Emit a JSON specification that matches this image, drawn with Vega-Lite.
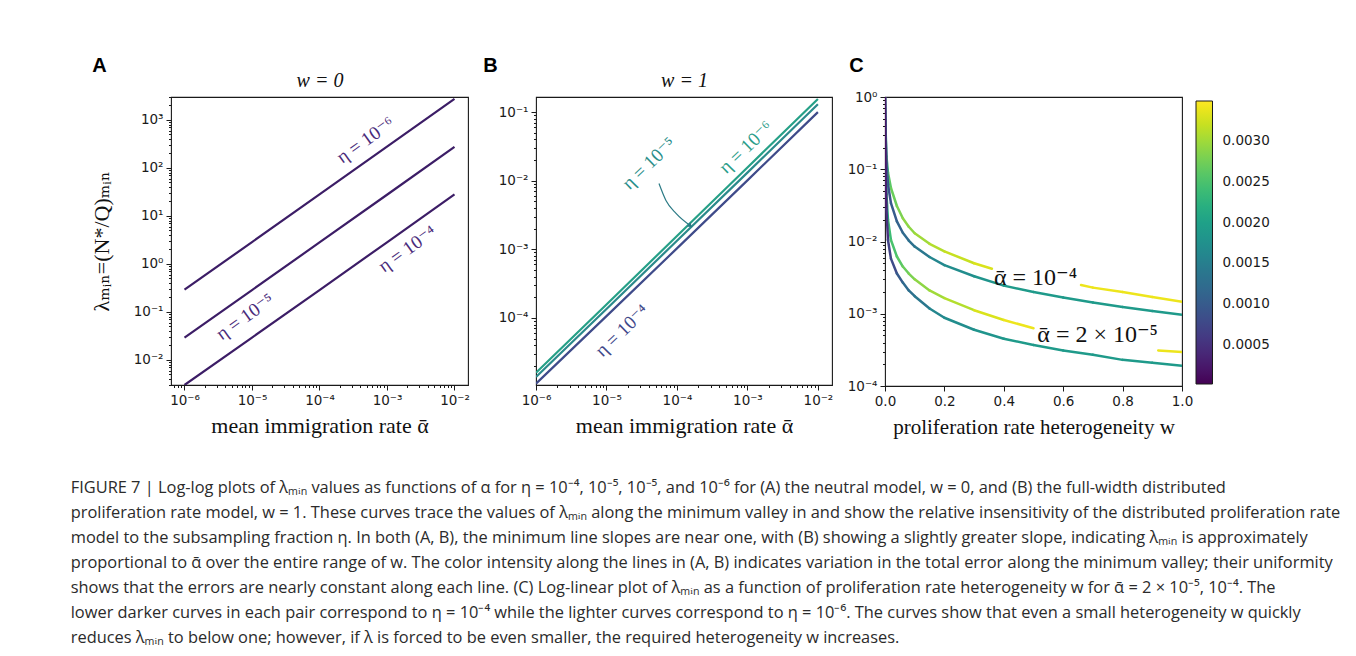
{
  "$schema": "https://vega.github.io/schema/vega-lite/v6.json",
  "background": "white",
  "padding": {"left": 70, "top": 55, "right": 0, "bottom": 0},
  "config": {
    "view": {"stroke": "#1a1a1a", "strokeWidth": 1.1},
    "axis": {"grid": false, "domain": false, "tickColor": "#1a1a1a", "labelColor": "#1a1a1a", "titleColor": "#111111", "labelFlush": false, "labelOverlap": false, "labelFont": "DejaVu Sans", "labelFontSize": 13.5, "titleFontWeight": "normal", "titleFont": "Liberation Serif, DejaVu Serif"}
  },
  "title": {
    "text": [
      "FIGURE 7 | Log-log plots of λₘᵢₙ values as functions of α for η = 10⁻⁴, 10⁻⁵, 10⁻⁵, and 10⁻⁶ for (A) the neutral model, w = 0, and (B) the full-width distributed",
      "proliferation rate model, w = 1. These curves trace the values of λₘᵢₙ along the minimum valley in and show the relative insensitivity of the distributed proliferation rate",
      "model to the subsampling fraction η. In both (A, B), the minimum line slopes are near one, with (B) showing a slightly greater slope, indicating λₘᵢₙ is approximately",
      "proportional to ᾱ over the entire range of w. The color intensity along the lines in (A, B) indicates variation in the total error along the minimum valley; their uniformity",
      "shows that the errors are nearly constant along each line. (C) Log-linear plot of λₘᵢₙ as a function of proliferation rate heterogeneity w for ᾱ = 2 × 10⁻⁵, 10⁻⁴. The",
      "lower darker curves in each pair correspond to η = 10⁻⁴ while the lighter curves correspond to η = 10⁻⁶. The curves show that even a small heterogeneity w quickly",
      "reduces λₘᵢₙ to below one; however, if λ is forced to be even smaller, the required heterogeneity w increases."
    ],
    "orient": "bottom",
    "anchor": "start",
    "frame": "bounds",
    "font": "Open Sans",
    "fontSize": 16.4,
    "fontWeight": "normal",
    "color": "#2b2b2b",
    "lineHeight": 25,
    "offset": 42,
    "dx": -19
  },
  "spacing": 12,
  "resolve": {"scale": {"color": "independent", "stroke": "independent"}, "legend": {"color": "independent", "stroke": "independent"}},
  "hconcat": [
    {
      "width": 297,
      "height": 288,
      "title": {"text": "A", "anchor": "start", "frame": "bounds", "font": "Liberation Sans", "fontSize": 20, "fontWeight": "bold", "color": "black", "offset": -6, "dx": 2},
      "layer": [
        {
          "data": {"values": [
            {"eta": "1e-6", "alpha": 1e-6, "lambda": 0.29}, {"eta": "1e-6", "alpha": 1e-5, "lambda": 2.85}, {"eta": "1e-6", "alpha": 1e-4, "lambda": 28}, {"eta": "1e-6", "alpha": 1e-3, "lambda": 277}, {"eta": "1e-6", "alpha": 1e-2, "lambda": 2740},
            {"eta": "1e-5", "alpha": 1e-6, "lambda": 0.029}, {"eta": "1e-5", "alpha": 1e-5, "lambda": 0.285}, {"eta": "1e-5", "alpha": 1e-4, "lambda": 2.8}, {"eta": "1e-5", "alpha": 1e-3, "lambda": 27.6}, {"eta": "1e-5", "alpha": 1e-2, "lambda": 273},
            {"eta": "1e-4", "alpha": 1e-6, "lambda": 0.003}, {"eta": "1e-4", "alpha": 1e-5, "lambda": 0.0292}, {"eta": "1e-4", "alpha": 1e-4, "lambda": 0.285}, {"eta": "1e-4", "alpha": 1e-3, "lambda": 2.82}, {"eta": "1e-4", "alpha": 1e-2, "lambda": 28}
          ]},
          "mark": {"type": "line", "strokeWidth": 2.2, "color": "#3c1d66", "clip": true},
          "encoding": {
            "detail": {"field": "eta"},
            "x": {"field": "alpha", "type": "quantitative", "scale": {"type": "log", "domain": [6.31e-7, 0.01585], "nice": false},
              "axis": {"orient": "bottom", "values": [7e-7,8e-7,9e-7,1e-6,2e-6,3e-6,4e-6,5e-6,6e-6,7e-6,8e-6,9e-6,1e-5,2e-5,3e-5,4e-5,5e-5,6e-5,7e-5,8e-5,9e-5,1e-4,2e-4,3e-4,4e-4,5e-4,6e-4,7e-4,8e-4,9e-4,1e-3,2e-3,3e-3,4e-3,5e-3,6e-3,7e-3,8e-3,9e-3,1e-2],
                "labelExpr": "abs(log(datum.value)/LN10 - round(log(datum.value)/LN10)) < 0.001 ? '10' + replace(replace(replace(replace(replace(replace(replace(replace(toString(round(log(datum.value)/LN10)), '-', '⁻'), '0', '⁰'), '1', '¹'), '2', '²'), '3', '³'), '4', '⁴'), '5', '⁵'), '6', '⁶') : ''",
                "tickSize": {"condition": {"test": "abs(log(datum.value)/LN10 - round(log(datum.value)/LN10)) < 0.001", "value": 5}, "value": 2.5},
                "labelPadding": 3, "title": "mean immigration rate ᾱ", "titleFontSize": 22, "titlePadding": 9}},
            "y": {"field": "lambda", "type": "quantitative", "scale": {"type": "log", "domain": [0.003, 3000], "nice": false},
              "axis": {"orient": "left", "values": [0.003,0.004,0.005,0.006,0.007,0.008,0.009,0.01,0.02,0.03,0.04,0.05,0.06,0.07,0.08,0.09,0.1,0.2,0.3,0.4,0.5,0.6,0.7,0.8,0.9,1,2,3,4,5,6,7,8,9,10,20,30,40,50,60,70,80,90,100,200,300,400,500,600,700,800,900,1000,2000,3000],
                "labelExpr": "abs(log(datum.value)/LN10 - round(log(datum.value)/LN10)) < 0.001 ? '10' + replace(replace(replace(replace(replace(replace(replace(replace(toString(round(log(datum.value)/LN10)), '-', '⁻'), '0', '⁰'), '1', '¹'), '2', '²'), '3', '³'), '4', '⁴'), '5', '⁵'), '6', '⁶') : ''",
                "tickSize": {"condition": {"test": "abs(log(datum.value)/LN10 - round(log(datum.value)/LN10)) < 0.001", "value": 5}, "value": 2.5},
                "labelPadding": 3, "title": "λₘᵢₙ=(N*/Q)ₘᵢₙ", "titleFontSize": 22, "titlePadding": 20}}
          }
        },
        {
          "data": {"values": [
            {"alpha": 4.8e-4, "lambda": 380, "label": "η = 10⁻⁶"},
            {"alpha": 7.9e-6, "lambda": 0.079, "label": "η = 10⁻⁵"},
            {"alpha": 2.0e-3, "lambda": 2.05, "label": "η = 10⁻⁴"}
          ]},
          "mark": {"type": "text", "font": "Liberation Serif, DejaVu Serif", "fontSize": 19, "color": "#4a2b7a", "angle": -35.5, "align": "center", "baseline": "middle"},
          "encoding": {
            "x": {"field": "alpha", "type": "quantitative", "scale": {"type": "log"},
              "axis": {"orient": "top", "title": "w = 0", "labels": false, "ticks": false, "domain": false, "titleFontSize": 20, "titleFontStyle": "italic", "titlePadding": 7}},
            "y": {"field": "lambda", "type": "quantitative", "scale": {"type": "log"}, "axis": null},
            "text": {"field": "label"}
          }
        }
      ],
      "resolve": {"axis": {"x": "independent", "y": "independent"}}
    },
    {
      "width": 296,
      "height": 288,
      "title": {"text": "B", "anchor": "start", "frame": "bounds", "font": "Liberation Sans", "fontSize": 20, "fontWeight": "bold", "color": "black", "offset": -6, "dx": -15},
      "layer": [
        {
          "data": {"values": [
            {"eta": "1e-6", "alpha": 1e-6, "lambda": 1.58e-5}, {"eta": "1e-6", "alpha": 1e-5, "lambda": 1.57e-4}, {"eta": "1e-6", "alpha": 1e-4, "lambda": 1.56e-3}, {"eta": "1e-6", "alpha": 1e-3, "lambda": 1.56e-2}, {"eta": "1e-6", "alpha": 1e-2, "lambda": 0.155},
            {"eta": "1e-5", "alpha": 1e-6, "lambda": 1.37e-5}, {"eta": "1e-5", "alpha": 1e-5, "lambda": 1.35e-4}, {"eta": "1e-5", "alpha": 1e-4, "lambda": 1.33e-3}, {"eta": "1e-5", "alpha": 1e-3, "lambda": 1.31e-2}, {"eta": "1e-5", "alpha": 1e-2, "lambda": 0.13},
            {"eta": "1e-4", "alpha": 1e-6, "lambda": 1.1e-5}, {"eta": "1e-4", "alpha": 1e-5, "lambda": 1.06e-4}, {"eta": "1e-4", "alpha": 1e-4, "lambda": 1.03e-3}, {"eta": "1e-4", "alpha": 1e-3, "lambda": 1.01e-2}, {"eta": "1e-4", "alpha": 1e-2, "lambda": 0.1}
          ]},
          "mark": {"type": "line", "strokeWidth": 2.2, "clip": true},
          "encoding": {
            "stroke": {"field": "eta", "type": "nominal", "scale": {"domain": ["1e-4", "1e-5", "1e-6"], "range": ["#3f4b8a", "#2b8a8c", "#26a087"]}, "legend": null},
            "x": {"field": "alpha", "type": "quantitative", "scale": {"type": "log", "domain": [1e-6, 0.01585], "nice": false},
              "axis": {"orient": "bottom", "values": [1e-6,2e-6,3e-6,4e-6,5e-6,6e-6,7e-6,8e-6,9e-6,1e-5,2e-5,3e-5,4e-5,5e-5,6e-5,7e-5,8e-5,9e-5,1e-4,2e-4,3e-4,4e-4,5e-4,6e-4,7e-4,8e-4,9e-4,1e-3,2e-3,3e-3,4e-3,5e-3,6e-3,7e-3,8e-3,9e-3,1e-2],
                "labelExpr": "abs(log(datum.value)/LN10 - round(log(datum.value)/LN10)) < 0.001 ? '10' + replace(replace(replace(replace(replace(replace(replace(replace(toString(round(log(datum.value)/LN10)), '-', '⁻'), '0', '⁰'), '1', '¹'), '2', '²'), '3', '³'), '4', '⁴'), '5', '⁵'), '6', '⁶') : ''",
                "tickSize": {"condition": {"test": "abs(log(datum.value)/LN10 - round(log(datum.value)/LN10)) < 0.001", "value": 5}, "value": 2.5},
                "labelPadding": 3, "title": "mean immigration rate ᾱ", "titleFontSize": 22, "titlePadding": 9}},
            "y": {"field": "lambda", "type": "quantitative", "scale": {"type": "log", "domain": [1.05e-5, 0.166], "nice": false},
              "axis": {"orient": "left", "values": [2e-5,3e-5,4e-5,5e-5,6e-5,7e-5,8e-5,9e-5,1e-4,2e-4,3e-4,4e-4,5e-4,6e-4,7e-4,8e-4,9e-4,1e-3,2e-3,3e-3,4e-3,5e-3,6e-3,7e-3,8e-3,9e-3,0.01,0.02,0.03,0.04,0.05,0.06,0.07,0.08,0.09,0.1],
                "labelExpr": "abs(log(datum.value)/LN10 - round(log(datum.value)/LN10)) < 0.001 ? '10' + replace(replace(replace(replace(replace(replace(replace(replace(toString(round(log(datum.value)/LN10)), '-', '⁻'), '0', '⁰'), '1', '¹'), '2', '²'), '3', '³'), '4', '⁴'), '5', '⁵'), '6', '⁶') : ''",
                "tickSize": {"condition": {"test": "abs(log(datum.value)/LN10 - round(log(datum.value)/LN10)) < 0.001", "value": 5}, "value": 2.5},
                "labelPadding": 3, "title": null}}
          }
        },
        {
          "data": {"values": [
            {"alpha": 4.0e-5, "lambda": 0.0179, "label": "η = 10⁻⁵"},
            {"alpha": 9.5e-4, "lambda": 0.0307, "label": "η = 10⁻⁶"},
            {"alpha": 1.66e-5, "lambda": 6.5e-5, "label": "η = 10⁻⁴"}
          ]},
          "mark": {"type": "text", "font": "Liberation Serif, DejaVu Serif", "fontSize": 19, "angle": -44, "align": "center", "baseline": "middle"},
          "encoding": {
            "x": {"field": "alpha", "type": "quantitative", "scale": {"type": "log"},
              "axis": {"orient": "top", "title": "w = 1", "labels": false, "ticks": false, "domain": false, "titleFontSize": 20, "titleFontStyle": "italic", "titlePadding": 7}},
            "y": {"field": "lambda", "type": "quantitative", "scale": {"type": "log"}, "axis": null},
            "color": {"field": "label", "type": "nominal", "scale": {"domain": ["η = 10⁻⁴", "η = 10⁻⁵", "η = 10⁻⁶"], "range": ["#41488a", "#2a8e8a", "#2a9d8a"]}, "legend": null},
            "text": {"field": "label"}
          }
        },
        {
          "data": {"values": [
            {"alpha": 5.56e-5, "lambda": 9.1e-3, "tip": false},
            {"alpha": 6.98e-5, "lambda": 5.15e-3, "tip": false},
            {"alpha": 9.7e-5, "lambda": 3.33e-3, "tip": false},
            {"alpha": 1.55e-4, "lambda": 2.2e-3, "tip": true}
          ]},
          "layer": [
            {
              "mark": {"type": "line", "strokeWidth": 1.2, "color": "#2b7a85", "interpolate": "monotone"},
              "encoding": {
                "x": {"field": "alpha", "type": "quantitative", "scale": {"type": "log"}, "axis": null},
                "y": {"field": "lambda", "type": "quantitative", "scale": {"type": "log"}, "axis": null}
              }
            },
            {
              "transform": [{"filter": "datum.tip"}],
              "mark": {"type": "point", "shape": "triangle-right", "filled": true, "size": 30, "angle": 39, "color": "#2b7a85", "opacity": 1},
              "encoding": {
                "x": {"field": "alpha", "type": "quantitative", "scale": {"type": "log"}, "axis": null},
                "y": {"field": "lambda", "type": "quantitative", "scale": {"type": "log"}, "axis": null}
              }
            }
          ]
        }
      ],
      "resolve": {"axis": {"x": "independent", "y": "independent"}}
    },
    {
      "width": 297,
      "height": 289,
      "title": {"text": "C", "anchor": "start", "frame": "bounds", "font": "Liberation Sans", "fontSize": 20, "fontWeight": "bold", "color": "black", "offset": 14, "dx": 2},
      "layer": [
        {
          "data": {"values": [
            {"curve": "Y1a", "w": 0, "lam": 1.0, "err": 0.0020}, {"curve": "Y1a", "w": 0.002, "lam": 0.35, "err": 0.0022}, {"curve": "Y1a", "w": 0.005, "lam": 0.15, "err": 0.0024}, {"curve": "Y1a", "w": 0.01, "lam": 0.09, "err": 0.0026}, {"curve": "Y1a", "w": 0.02, "lam": 0.055, "err": 0.0027}, {"curve": "Y1a", "w": 0.04, "lam": 0.031, "err": 0.0028}, {"curve": "Y1a", "w": 0.06, "lam": 0.021, "err": 0.0029}, {"curve": "Y1a", "w": 0.08, "lam": 0.016, "err": 0.0029}, {"curve": "Y1a", "w": 0.1, "lam": 0.013, "err": 0.0030}, {"curve": "Y1a", "w": 0.15, "lam": 0.0093, "err": 0.0031}, {"curve": "Y1a", "w": 0.2, "lam": 0.0073, "err": 0.0032}, {"curve": "Y1a", "w": 0.3, "lam": 0.0050, "err": 0.0033}, {"curve": "Y1a", "w": 0.36, "lam": 0.0042, "err": 0.0034},
            {"curve": "Y1b", "w": 0.66, "lam": 0.0025, "err": 0.0034}, {"curve": "Y1b", "w": 0.7, "lam": 0.0023, "err": 0.0034}, {"curve": "Y1b", "w": 0.8, "lam": 0.0020, "err": 0.0034}, {"curve": "Y1b", "w": 0.9, "lam": 0.0017, "err": 0.0034}, {"curve": "Y1b", "w": 1.0, "lam": 0.00147, "err": 0.0034},
            {"curve": "T1", "w": 0, "lam": 1.0, "err": 0.0004}, {"curve": "T1", "w": 0.002, "lam": 0.3, "err": 0.0006}, {"curve": "T1", "w": 0.005, "lam": 0.12, "err": 0.0008}, {"curve": "T1", "w": 0.01, "lam": 0.062, "err": 0.0009}, {"curve": "T1", "w": 0.02, "lam": 0.034, "err": 0.0010}, {"curve": "T1", "w": 0.04, "lam": 0.019, "err": 0.0011}, {"curve": "T1", "w": 0.06, "lam": 0.0132, "err": 0.0012}, {"curve": "T1", "w": 0.08, "lam": 0.0103, "err": 0.0013}, {"curve": "T1", "w": 0.1, "lam": 0.0085, "err": 0.0014}, {"curve": "T1", "w": 0.15, "lam": 0.0061, "err": 0.0016}, {"curve": "T1", "w": 0.2, "lam": 0.0047, "err": 0.0017}, {"curve": "T1", "w": 0.3, "lam": 0.0033, "err": 0.0018}, {"curve": "T1", "w": 0.4, "lam": 0.00245, "err": 0.0019}, {"curve": "T1", "w": 0.5, "lam": 0.0020, "err": 0.0019}, {"curve": "T1", "w": 0.6, "lam": 0.00168, "err": 0.0019}, {"curve": "T1", "w": 0.7, "lam": 0.00143, "err": 0.0019}, {"curve": "T1", "w": 0.8, "lam": 0.00124, "err": 0.0019}, {"curve": "T1", "w": 0.9, "lam": 0.00109, "err": 0.0019}, {"curve": "T1", "w": 1.0, "lam": 0.00097, "err": 0.0019},
            {"curve": "Y2a", "w": 0, "lam": 1.0, "err": 0.0016}, {"curve": "Y2a", "w": 0.002, "lam": 0.15, "err": 0.0019}, {"curve": "Y2a", "w": 0.005, "lam": 0.045, "err": 0.0022}, {"curve": "Y2a", "w": 0.01, "lam": 0.02, "err": 0.0024}, {"curve": "Y2a", "w": 0.02, "lam": 0.0105, "err": 0.0025}, {"curve": "Y2a", "w": 0.04, "lam": 0.0062, "err": 0.0026}, {"curve": "Y2a", "w": 0.06, "lam": 0.0045, "err": 0.0027}, {"curve": "Y2a", "w": 0.08, "lam": 0.0036, "err": 0.0028}, {"curve": "Y2a", "w": 0.1, "lam": 0.0030, "err": 0.0029}, {"curve": "Y2a", "w": 0.15, "lam": 0.0021, "err": 0.0030}, {"curve": "Y2a", "w": 0.2, "lam": 0.00165, "err": 0.0031}, {"curve": "Y2a", "w": 0.3, "lam": 0.00112, "err": 0.0033}, {"curve": "Y2a", "w": 0.4, "lam": 0.00082, "err": 0.0034}, {"curve": "Y2a", "w": 0.5, "lam": 0.00063, "err": 0.0034},
            {"curve": "Y2b", "w": 0.92, "lam": 0.00031, "err": 0.0034}, {"curve": "Y2b", "w": 1.0, "lam": 0.000295, "err": 0.0034},
            {"curve": "T2", "w": 0, "lam": 1.0, "err": 0.0002}, {"curve": "T2", "w": 0.002, "lam": 0.1, "err": 0.0003}, {"curve": "T2", "w": 0.005, "lam": 0.028, "err": 0.0005}, {"curve": "T2", "w": 0.01, "lam": 0.0105, "err": 0.0007}, {"curve": "T2", "w": 0.02, "lam": 0.0058, "err": 0.0008}, {"curve": "T2", "w": 0.04, "lam": 0.0036, "err": 0.0010}, {"curve": "T2", "w": 0.06, "lam": 0.0027, "err": 0.0012}, {"curve": "T2", "w": 0.08, "lam": 0.0021, "err": 0.0013}, {"curve": "T2", "w": 0.1, "lam": 0.00175, "err": 0.0014}, {"curve": "T2", "w": 0.15, "lam": 0.00118, "err": 0.0016}, {"curve": "T2", "w": 0.2, "lam": 0.00088, "err": 0.0017}, {"curve": "T2", "w": 0.3, "lam": 0.00060, "err": 0.0018}, {"curve": "T2", "w": 0.4, "lam": 0.00045, "err": 0.0019}, {"curve": "T2", "w": 0.5, "lam": 0.00037, "err": 0.0019}, {"curve": "T2", "w": 0.6, "lam": 0.00031, "err": 0.0019}, {"curve": "T2", "w": 0.7, "lam": 0.00027, "err": 0.0019}, {"curve": "T2", "w": 0.8, "lam": 0.00023, "err": 0.0019}, {"curve": "T2", "w": 0.9, "lam": 0.00021, "err": 0.0019}, {"curve": "T2", "w": 1.0, "lam": 0.00019, "err": 0.0019}
          ]},
          "transform": [
            {"window": [{"op": "lead", "field": "w", "as": "w2"}, {"op": "lead", "field": "lam", "as": "lam2"}], "groupby": ["curve"], "sort": [{"field": "w", "order": "ascending"}]},
            {"filter": "isValid(datum.w2)"}
          ],
          "mark": {"type": "rule", "strokeWidth": 2.5, "strokeCap": "round", "clip": true},
          "encoding": {
            "x": {"field": "w", "type": "quantitative", "scale": {"domain": [0, 1], "nice": false},
              "axis": {"orient": "bottom", "values": [0,0.1,0.2,0.3,0.4,0.5,0.6,0.7,0.8,0.9,1],
                "labelExpr": "round(datum.value*10) % 2 == 0 ? format(datum.value, '.1f') : ''",
                "tickSize": 5, "labelPadding": 3, "title": "proliferation rate heterogeneity w", "titleFontSize": 21, "titlePadding": 9}},
            "x2": {"field": "w2"},
            "y": {"field": "lam", "type": "quantitative", "scale": {"type": "log", "domain": [0.0001, 1], "nice": false},
              "axis": {"orient": "left", "values": [1e-4,2e-4,3e-4,4e-4,5e-4,6e-4,7e-4,8e-4,9e-4,1e-3,2e-3,3e-3,4e-3,5e-3,6e-3,7e-3,8e-3,9e-3,0.01,0.02,0.03,0.04,0.05,0.06,0.07,0.08,0.09,0.1,0.2,0.3,0.4,0.5,0.6,0.7,0.8,0.9,1],
                "labelExpr": "abs(log(datum.value)/LN10 - round(log(datum.value)/LN10)) < 0.001 ? '10' + replace(replace(replace(replace(replace(replace(replace(replace(toString(round(log(datum.value)/LN10)), '-', '⁻'), '0', '⁰'), '1', '¹'), '2', '²'), '3', '³'), '4', '⁴'), '5', '⁵'), '6', '⁶') : ''",
                "tickSize": {"condition": {"test": "abs(log(datum.value)/LN10 - round(log(datum.value)/LN10)) < 0.001", "value": 5}, "value": 2.5},
                "labelPadding": 3, "title": null}},
            "y2": {"field": "lam2"},
            "color": {"field": "err", "type": "quantitative", "scale": {"scheme": "viridis", "domain": [0.000022, 0.00349]},
              "legend": {"type": "gradient", "direction": "vertical", "orient": "right", "title": null, "gradientLength": 283, "gradientThickness": 16.5, "values": [0.0005, 0.001, 0.0015, 0.002, 0.0025, 0.003], "format": ".4f", "labelFont": "DejaVu Sans", "labelFontSize": 13.5, "labelColor": "#1a1a1a", "labelOffset": 10, "gradientStrokeColor": "#1a1a1a", "gradientStrokeWidth": 1, "offset": 10, "padding": 4}}
          }
        },
        {
          "data": {"values": [
            {"w": 0.507, "lam": 0.00316, "label": "ᾱ = 10⁻⁴"},
            {"w": 0.716, "lam": 0.00051, "label": "ᾱ = 2 × 10⁻⁵"}
          ]},
          "mark": {"type": "text", "font": "Liberation Serif, DejaVu Serif", "fontSize": 24, "color": "#111111", "align": "center", "baseline": "middle"},
          "encoding": {
            "x": {"field": "w", "type": "quantitative"},
            "y": {"field": "lam", "type": "quantitative", "scale": {"type": "log"}},
            "text": {"field": "label"}
          }
        }
      ]
    }
  ]
}
